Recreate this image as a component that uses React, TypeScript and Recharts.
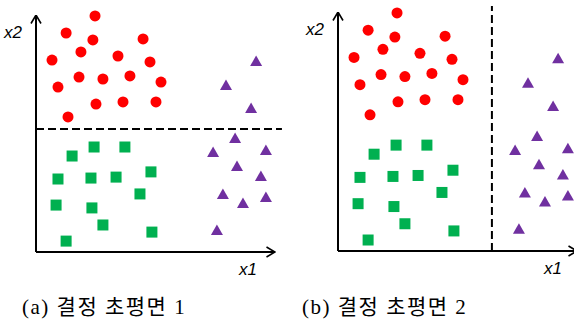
import React from 'react';
import { ScatterChart, Scatter, XAxis, YAxis, ReferenceLine } from 'recharts';

// class 1: circles (x1, x2)
const circles = [
  { x: 24.7, y: 99.6 }, { x: 12.6, y: 92.4 }, { x: 23.8, y: 89.5 }, { x: 44.8, y: 89.9 },
  { x: 18.8, y: 84.4 }, { x: 6.7, y: 81.0 }, { x: 34.3, y: 82.7 }, { x: 47.7, y: 80.2 },
  { x: 18.0, y: 73.8 }, { x: 28.0, y: 73.0 }, { x: 39.3, y: 74.3 }, { x: 52.3, y: 71.7 },
  { x: 9.2, y: 69.6 }, { x: 25.1, y: 62.4 }, { x: 36.4, y: 63.3 }, { x: 50.2, y: 63.3 },
  { x: 13.4, y: 57.0 },
];

// class 2: squares
const squares = [
  { x: 24.3, y: 44.3 }, { x: 37.2, y: 44.3 }, { x: 15.1, y: 40.5 }, { x: 9.2, y: 30.8 },
  { x: 23.0, y: 31.2 }, { x: 33.5, y: 31.6 }, { x: 48.1, y: 33.8 }, { x: 43.5, y: 24.5 },
  { x: 8.4, y: 19.8 }, { x: 23.4, y: 18.6 }, { x: 28.0, y: 11.4 }, { x: 48.5, y: 8.4 },
  { x: 12.6, y: 4.6 },
];

// class 3: triangles
const triangles = [
  { x: 92.1, y: 80.2 }, { x: 79.5, y: 70.0 }, { x: 90.0, y: 60.3 }, { x: 83.3, y: 47.7 },
  { x: 74.1, y: 41.8 }, { x: 96.2, y: 42.6 }, { x: 84.1, y: 35.9 }, { x: 94.1, y: 31.6 },
  { x: 78.2, y: 24.1 }, { x: 86.6, y: 20.3 }, { x: 96.2, y: 22.8 }, { x: 75.7, y: 8.9 },
];

const captions = ['(a) 결정 초평면 1', '(b) 결정 초평면 2'];
const boundaryX2 = 51.9; // horizontal boundary in (a)
const boundaryX1 = 64.4; // vertical boundary in (b)

const RED = '#ff0000';
const GREEN = '#00b050';
const PURPLE = '#7030a0';

const Circle = (p: any) => <circle cx={p.cx} cy={p.cy} r={5.5} fill={RED} />;
const Square = (p: any) => <rect x={p.cx - 5.5} y={p.cy - 5.5} width={11} height={11} fill={GREEN} />;
const Triangle = (p: any) => (
  <path d={`M${p.cx},${p.cy - 6.5} L${p.cx + 6},${p.cy + 4} L${p.cx - 6},${p.cy + 4} Z`} fill={PURPLE} />
);

const axisLineX = { stroke: '#000', strokeWidth: 2, markerEnd: 'url(#arrowhead)' };
const axisLineY = { stroke: '#000', strokeWidth: 2, markerStart: 'url(#arrowhead)' };

const label: React.CSSProperties = {
  position: 'absolute',
  fontFamily: '"Liberation Sans", Arial, sans-serif',
  fontStyle: 'italic',
  fontSize: 17,
  lineHeight: '17px',
  color: '#000',
};

const caption: React.CSSProperties = {
  position: 'absolute',
  fontFamily: '"Liberation Serif", "Noto Sans CJK KR", serif',
  fontSize: 21,
  lineHeight: '22px',
  letterSpacing: 1.5,
  color: '#000',
  whiteSpace: 'nowrap',
};

// axes get 1px of room: a zero-size axis is not drawn at all
const Panel = ({ mode, margin }: { mode: 'a' | 'b'; margin: any }) => (
  <ScatterChart width={290} height={290} margin={margin}>
    <XAxis type="number" dataKey="x" domain={[0, 100]} tick={false} height={1} axisLine={axisLineX} tickLine={false} />
    <YAxis type="number" dataKey="y" domain={[0, 100]} tick={false} width={1} axisLine={axisLineY} tickLine={false} />
    {mode === 'a' ? (
      <ReferenceLine
        segment={[{ x: 0, y: boundaryX2 }, { x: 102.9, y: boundaryX2 }]}
        stroke="#000" strokeWidth={2} strokeDasharray="8 4" ifOverflow="visible"
      />
    ) : (
      <ReferenceLine
        segment={[{ x: boundaryX1, y: 0 }, { x: boundaryX1, y: 102.5 }]}
        stroke="#000" strokeWidth={2} strokeDasharray="8 4" ifOverflow="visible"
      />
    )}
    <Scatter data={circles} shape={Circle} isAnimationActive={false} />
    <Scatter data={squares} shape={Square} isAnimationActive={false} />
    <Scatter data={triangles} shape={Triangle} isAnimationActive={false} />
  </ScatterChart>
);

export default function App() {
  return (
    <div style={{ position: 'absolute', left: 0, top: 0, width: 574, height: 327, overflow: 'hidden', background: '#fff' }}>
      <svg width={0} height={0} style={{ position: 'absolute' }}>
        <defs>
          <marker id="arrowhead" viewBox="0 0 10 12" refX={9.5} refY={6} markerWidth={10} markerHeight={12}
            markerUnits="userSpaceOnUse" orient="auto-start-reverse">
            <path d="M1,1 L9.5,6 L1,11" fill="none" stroke="#000" strokeWidth={1.6} />
          </marker>
        </defs>
      </svg>
      <div style={{ position: 'absolute', left: 0, top: 0 }}>
        <Panel mode="a" margin={{ top: 15, right: 15, bottom: 37, left: 35 }} />
      </div>
      <div style={{ position: 'absolute', left: 290, top: 0 }}>
        <Panel mode="b" margin={{ top: 12, right: 3, bottom: 38, left: 47 }} />
      </div>
      <span style={{ ...label, left: 4, top: 24 }}>x2</span>
      <span style={{ ...label, left: 239, top: 261 }}>x1</span>
      <span style={{ ...label, left: 306, top: 21 }}>x2</span>
      <span style={{ ...label, left: 544, top: 260 }}>x1</span>
      <div style={{ ...caption, left: 22, top: 296 }}>{captions[0]}</div>
      <div style={{ ...caption, left: 302, top: 296 }}>{captions[1]}</div>
    </div>
  );
}
